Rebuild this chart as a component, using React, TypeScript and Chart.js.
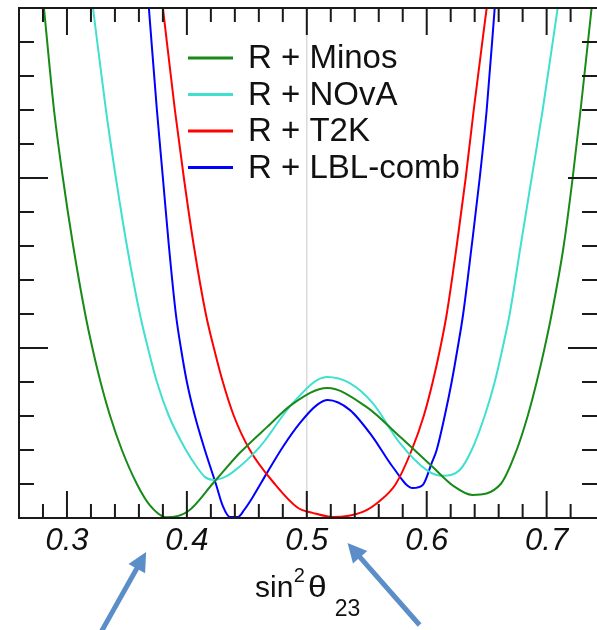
import React, { useEffect, useRef } from 'react';
import { Chart, registerables } from 'chart.js';

Chart.register(...registerables);

const FONT = "'Liberation Sans', Arial, Helvetica, sans-serif";

const X_MIN = 0.26;
const X_MAX = 0.742;
const Y_MIN = 0;
const Y_MAX = 15;

const X_TICK_LABELS = [0.3, 0.4, 0.5, 0.6, 0.7];
const X_MINOR_TICKS = [0.28, 0.3, 0.32, 0.34, 0.36, 0.38, 0.4, 0.42, 0.44, 0.46, 0.48, 0.5, 0.52, 0.54, 0.56, 0.58, 0.6, 0.62, 0.64, 0.66, 0.68, 0.7, 0.72];
const Y_TICKS = [1, 2, 3, 4, 5, 6, 7, 8, 9, 10, 11, 12, 13, 14];
const Y_MAJOR_TICKS = [5, 10];
const REF_LINE_X = 0.5;

const SERIES_LABELS = ['R + Minos', 'R + NOvA', 'R + T2K', 'R + LBL-comb'];
const SERIES_COLORS = ['#178a17', '#40e0d0', '#ff0000', '#0000ff'];

const MINOS_X = [0.2808, 0.2892, 0.2966, 0.3052, 0.3152, 0.3212, 0.328, 0.336, 0.3458, 0.3583, 0.369, 0.383, 0.401, 0.422, 0.444, 0.467, 0.488, 0.517, 0.55, 0.578, 0.605, 0.622, 0.638, 0.6617, 0.675, 0.6842, 0.6917, 0.6983, 0.7042, 0.7142, 0.7217, 0.7283, 0.7375];
const MINOS_Y = [15, 12, 10, 8, 6, 5, 4, 3, 2, 1, 0.38, 0.02, 0.2, 1.03, 1.91, 2.68, 3.35, 3.82, 3.26, 2.38, 1.5, 0.95, 0.68, 1, 2, 3, 4, 5, 6, 8, 10, 12, 15];

const NOVA_X = [0.3217, 0.3325, 0.3408, 0.35, 0.3608, 0.3675, 0.375, 0.385, 0.3992, 0.4083, 0.415, 0.4225, 0.43, 0.4383, 0.4608, 0.4883, 0.5167, 0.5358, 0.555, 0.5775, 0.6, 0.6133, 0.6275, 0.6375, 0.6483, 0.6567, 0.6633, 0.6692, 0.6783, 0.6875, 0.6967, 0.7092];
const NOVA_Y = [15, 12, 10, 8, 6, 5, 4, 3, 2, 1.5, 1.21, 1.12, 1.18, 1.35, 2.09, 3.38, 4.15, 3.97, 3.38, 2.21, 1.41, 1.24, 1.41, 2, 3, 4, 5, 6, 8, 10, 12, 15];

const T2K_X = [0.38, 0.39, 0.3975, 0.4058, 0.4158, 0.4225, 0.43, 0.4392, 0.4525, 0.4733, 0.4925, 0.505, 0.5217, 0.5467, 0.5608, 0.5742, 0.5875, 0.5975, 0.605, 0.6113, 0.6167, 0.625, 0.6325, 0.6392, 0.65];
const T2K_Y = [15, 12, 10, 8, 6, 5, 4, 3, 2, 1, 0.3, 0.15, 0.03, 0.18, 0.5, 1, 2, 3, 4, 5, 6, 8, 10, 12, 15];

const LBL_X = [0.3683, 0.375, 0.38, 0.385, 0.3908, 0.395, 0.4, 0.4067, 0.415, 0.4242, 0.43, 0.4358, 0.4425, 0.448, 0.455, 0.4667, 0.48, 0.4942, 0.5083, 0.5175, 0.5358, 0.555, 0.5717, 0.5883, 0.5967, 0.6042, 0.6083, 0.615, 0.6208, 0.6258, 0.6304, 0.6375, 0.6442, 0.65, 0.6567];
const LBL_Y = [15, 12, 10, 8, 6, 5, 4, 3, 2, 1, 0.35, 0.03, 0.03, 0.25, 0.62, 1.32, 2.09, 2.79, 3.32, 3.47, 3.18, 2.38, 1.5, 0.88, 0.97, 1.62, 2, 3, 4, 5, 6, 8, 10, 12, 15];

const SERIES_X = [MINOS_X, NOVA_X, T2K_X, LBL_X];
const SERIES_Y = [MINOS_Y, NOVA_Y, T2K_Y, LBL_Y];

// x values the two annotation arrows point at
const ARROW_TARGETS_X = [0.366, 0.534];

const isMajorX = (v: number) => X_TICK_LABELS.some((t) => Math.abs(t - v) < 1e-6);

const decorPlugin = {
  id: 'decor',
  beforeDatasetsDraw(chart: any) {
    const { ctx, chartArea: a, scales } = chart;
    const px = scales.x.getPixelForValue(REF_LINE_X);
    ctx.save();
    ctx.strokeStyle = '#dadada';
    ctx.lineWidth = 1.5;
    ctx.beginPath();
    ctx.moveTo(px, a.top);
    ctx.lineTo(px, a.bottom);
    ctx.stroke();
    ctx.restore();
  },
  afterDatasetsDraw(chart: any) {
    const { ctx, chartArea: a, scales } = chart;
    const x = scales.x;
    const y = scales.y;
    ctx.save();
    ctx.strokeStyle = '#1a1a1a';
    ctx.lineWidth = 2;
    ctx.beginPath();
    ctx.moveTo(a.right + 2, a.top);
    ctx.lineTo(a.left, a.top);
    ctx.lineTo(a.left, a.bottom);
    ctx.lineTo(a.right + 2, a.bottom);
    ctx.stroke();
    ctx.beginPath();
    for (const v of X_MINOR_TICKS) {
      const px = x.getPixelForValue(v);
      const len = isMajorX(v) ? 27 : 14;
      ctx.moveTo(px, a.bottom);
      ctx.lineTo(px, a.bottom - len);
      ctx.moveTo(px, a.top);
      ctx.lineTo(px, a.top + len);
    }
    for (const v of Y_TICKS) {
      const py = y.getPixelForValue(v);
      const len = Y_MAJOR_TICKS.includes(v) ? 29 : 15;
      ctx.moveTo(a.left, py);
      ctx.lineTo(a.left + len, py);
      ctx.moveTo(a.right, py);
      ctx.lineTo(a.right - len, py);
    }
    ctx.stroke();
    ctx.restore();
  },
  afterDraw(chart: any) {
    const { ctx, chartArea: a, scales } = chart;
    const x = scales.x;
    ctx.save();
    // legend
    ctx.font = `33px ${FONT}`;
    ctx.textBaseline = 'alphabetic';
    ctx.textAlign = 'left';
    chart.data.datasets.forEach((ds: any, i: number) => {
      const base = a.top + 60 + i * 36.5;
      ctx.strokeStyle = ds.borderColor;
      ctx.lineWidth = 3;
      ctx.beginPath();
      ctx.moveTo(a.left + 169, base - 10);
      ctx.lineTo(a.left + 214, base - 10);
      ctx.stroke();
      ctx.fillStyle = '#111';
      ctx.fillText(ds.label, a.left + 229, base);
    });
    // axis title sin^2 theta_23
    const cx = (a.left + a.right) / 2;
    let tx = cx - 53;
    const base = a.bottom + 79;
    ctx.fillStyle = '#111';
    ctx.font = `30px ${FONT}`;
    ctx.fillText('sin', tx, base);
    tx += ctx.measureText('sin').width + 0.5;
    ctx.font = `20px ${FONT}`;
    ctx.fillText('2', tx, base - 15);
    tx += ctx.measureText('2').width + 3;
    ctx.font = `30px ${FONT}`;
    const thetaW = ctx.measureText('θ').width;
    const stretch = 1.12;
    ctx.save();
    ctx.translate(tx, base);
    ctx.scale(stretch, 1);
    ctx.fillText('θ', 0, 0);
    ctx.restore();
    tx += thetaW * stretch + 8;
    ctx.font = `23px ${FONT}`;
    ctx.fillText('23', tx, base + 19);
    // arrows
    const arrows = [
      { tip: [x.getPixelForValue(ARROW_TARGETS_X[0]), a.bottom + 34], tail: [-45, 80] },
      { tip: [x.getPixelForValue(ARROW_TARGETS_X[1]), a.bottom + 25], tail: [72, 82] },
    ];
    ctx.fillStyle = '#5b8ec9';
    ctx.strokeStyle = '#5b8ec9';
    for (const ar of arrows) {
      const [tx0, ty0] = ar.tip;
      const ex = tx0 + ar.tail[0];
      const ey = ty0 + ar.tail[1];
      const len = Math.hypot(ar.tail[0], ar.tail[1]);
      const ux = -ar.tail[0] / len;
      const uy = -ar.tail[1] / len;
      const headL = 19;
      const headW = 9.5;
      const bx = tx0 - ux * headL;
      const by = ty0 - uy * headL;
      ctx.lineWidth = 5;
      ctx.beginPath();
      ctx.moveTo(ex, ey);
      ctx.lineTo(bx + ux * 2, by + uy * 2);
      ctx.stroke();
      ctx.beginPath();
      ctx.moveTo(tx0, ty0);
      ctx.lineTo(bx - uy * headW, by + ux * headW);
      ctx.lineTo(bx + uy * headW, by - ux * headW);
      ctx.closePath();
      ctx.fill();
    }
    ctx.restore();
  },
};

export default function App() {
  const ref = useRef<HTMLCanvasElement | null>(null);

  useEffect(() => {
    if (!ref.current) return;
    const datasets = SERIES_X.map((xs, i) => ({
      label: SERIES_LABELS[i],
      data: xs.map((xv, j) => ({ x: xv, y: SERIES_Y[i][j] })),
      borderColor: SERIES_COLORS[i],
      backgroundColor: SERIES_COLORS[i],
      borderWidth: 2,
      pointRadius: 0,
      fill: false,
      cubicInterpolationMode: 'monotone' as const,
    }));
    const chart = new Chart(ref.current, {
      type: 'line',
      data: { datasets },
      options: {
        responsive: false,
        animation: false,
        layout: { padding: { left: 19, top: 8, right: 0, bottom: 0 } },
        plugins: { legend: { display: false }, tooltip: { enabled: false } },
        scales: {
          x: {
            type: 'linear',
            min: X_MIN,
            max: X_MAX,
            grid: { display: false, drawTicks: false },
            border: { display: false },
            ticks: {
              font: { family: FONT, size: 31, style: 'italic' },
              color: '#111',
              padding: 5,
              maxRotation: 0,
              autoSkip: false,
              callback: (v: any) => Number(v).toFixed(1),
            },
            afterBuildTicks: (s: any) => {
              s.ticks = X_TICK_LABELS.map((v) => ({ value: v }));
            },
            afterFit: (s: any) => {
              s.height = 112;
            },
          },
          y: { type: 'linear', min: Y_MIN, max: Y_MAX, display: false },
        },
      },
      plugins: [decorPlugin],
    });
    return () => chart.destroy();
  }, []);

  return (
    <div style={{ position: 'fixed', left: 0, top: 0, width: 597, height: 630, background: '#fff' }}>
      <canvas ref={ref} width={597} height={630} style={{ display: 'block' }} />
    </div>
  );
}
